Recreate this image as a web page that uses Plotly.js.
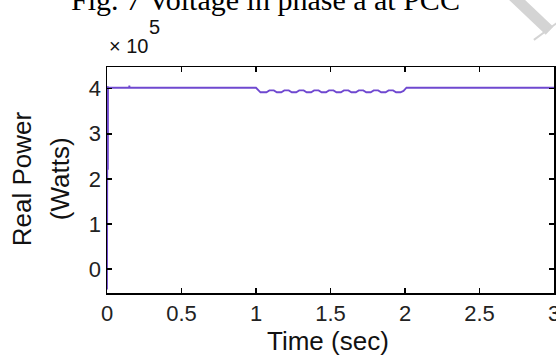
<!DOCTYPE html>
<html>
<head>
<meta charset="utf-8">
<script src="https://cdn.plot.ly/plotly-3.0.1.min.js"></script>
<style>html,body{margin:0;padding:0;background:#fff;}#chart{width:556px;height:359px;}</style>
</head>
<body>
<div id="chart"></div>
<script>
// Time (sec)
const timeSec = [0, 0.001, 0.002, 0.003, 0.004, 0.005, 0.006, 0.007, 0.008, 0.01, 0.03,
  0.148, 0.15, 0.152, 0.16,
  1.00, 1.03, 1.07, 1.09, 1.12, 1.14, 1.17, 1.19, 1.22, 1.24, 1.27, 1.29, 1.32, 1.34, 1.37,
  1.39, 1.42, 1.44, 1.47, 1.49, 1.52, 1.54, 1.57, 1.59, 1.62, 1.64, 1.67, 1.69, 1.72, 1.74,
  1.77, 1.79, 1.82, 1.84, 1.87, 1.89, 1.92, 1.94, 1.97, 1.99, 2.01, 3.00];
// Real power (Watts)
const realPowerW = [-45000, 400000, 141000, 405000, 160000, 402000, 220000, 404000, 300000, 402000, 402000,
  402000, 407000, 402000, 402000,
  402000, 392000, 392000, 396000, 396000, 392000, 392000, 396000, 396000, 392000, 392000, 396000, 396000, 392000, 392000,
  396000, 396000, 392000, 392000, 396000, 396000, 392000, 392000, 396000, 396000, 392000, 392000, 396000, 396000, 392000,
  392000, 396000, 396000, 392000, 392000, 396000, 396000, 392000, 392000, 395000, 402000, 402000];

const xTickVals = [0, 0.5, 1, 1.5, 2, 2.5, 3];
const xTickText = ['0', '0.5', '1', '1.5', '2', '2.5', '3'];
const yTickVals = [0, 100000, 200000, 300000, 400000];
const yTickText = ['0', '1', '2', '3', '4'];

const figTitle = 'Fig. 7 Voltage in phase a at PCC';
const xTitle = 'Time (sec)';
const yTitleLine1 = 'Real Power';
const yTitleLine2 = '(Watts)';
const exponentText = '\u00d7 10';
const exponentPower = '5';

const sans = 'Liberation Sans, Arial, sans-serif';
const axisCommon = {
  showline: true, linecolor: '#000', linewidth: 1.5, mirror: 'ticks',
  ticks: 'inside', ticklen: 5, tickwidth: 1.5, tickcolor: '#000',
  showgrid: false, zeroline: false, ticklabeloverflow: 'allow',
  tickfont: {family: sans, size: 22, color: '#222'}
};

const data = [{
  x: timeSec, y: realPowerW, type: 'scatter', mode: 'lines', cliponaxis: false,
  line: {color: '#6f48d0', width: 1.8}, hoverinfo: 'skip'
}];

const ann = (text, x, y, size, extra) => Object.assign({
  text: text, xref: 'paper', yref: 'paper', x: x, y: y, xanchor: 'center', yanchor: 'middle',
  showarrow: false, font: {family: sans, size: size, color: '#111'}
}, extra || {});

const layout = {
  width: 556, height: 359,
  margin: {l: 107, r: 2, t: 67, b: 66},
  paper_bgcolor: '#fff', plot_bgcolor: '#fff',
  showlegend: false,
  xaxis: Object.assign({}, axisCommon, {
    range: [0, 3], tickvals: xTickVals, ticktext: xTickText
  }),
  yaxis: Object.assign({}, axisCommon, {
    range: [-53000, 448000], tickvals: yTickVals, ticktext: yTickText
  }),
  annotations: [
    ann(figTitle, 0.355, 1.30, 30, {font: {family: 'Liberation Serif, Times New Roman, serif', size: 30, color: '#000'}}),
    ann(exponentText, 0.0, 1.093, 20, {xanchor: 'left'}),
    ann(exponentPower, 0.09, 1.177, 20, {xanchor: 'left'}),
    ann(xTitle, 0.494, -0.212, 26),
    ann(yTitleLine1, -0.190, 0.504, 26, {textangle: -90}),
    ann(yTitleLine2, -0.105, 0.504, 26, {textangle: -90})
  ],
  shapes: [
    {type: 'line', xref: 'paper', yref: 'paper', x0: 0.905, y0: 1.32, x1: 0.99, y1: 1.16,
     line: {color: '#d4d4d4', width: 11}, layer: 'above'},
    {type: 'line', xref: 'paper', yref: 'paper', x0: 0.955, y0: 1.12, x1: 1.01, y1: 1.2,
     line: {color: '#d4d4d4', width: 2}, layer: 'above'}
  ]
};

Plotly.newPlot('chart', data, layout, {staticPlot: true, displayModeBar: false});
</script>
</body>
</html>
